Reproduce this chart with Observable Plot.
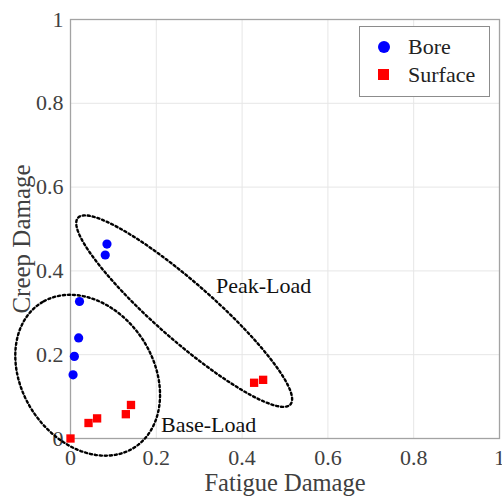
<!DOCTYPE html>
<html>
<head>
<meta charset="utf-8">
<script src="https://cdn.jsdelivr.net/npm/d3@7"></script>
<script src="https://cdn.jsdelivr.net/npm/@observablehq/plot@0.6"></script>
<style>
  html, body { margin: 0; padding: 0; background: #fff; }
  #wrap { position: relative; width: 502px; height: 500px; }
  #wrap svg text { font-family: "Liberation Serif", serif !important; }
  #legend {
    position: absolute; left: 359px; top: 26px; width: 131px; height: 71px;
    border: 1.2px solid #8c8c8c; background: #fff; box-sizing: border-box;
    font-family: "Liberation Serif", serif; font-size: 22px; color: #222;
  }
  .row { position: absolute; left: 0; height: 26px; line-height: 26px; }
  .sw { position: absolute; left: 18px; top: 7px; width: 12px; height: 12px; }
  .lab { position: absolute; left: 48px; white-space: nowrap; }
</style>
</head>
<body>
<div id="wrap"></div>
<script>
// ---- data ----
const seriesNames = ["Bore", "Surface"];
const seriesColors = ["#0000ff", "#ff0000"];
const boreX = [0.085, 0.081, 0.021, 0.019, 0.009, 0.006];
const boreY = [0.464, 0.438, 0.327, 0.240, 0.196, 0.152];
const surfX = [0.000, 0.042, 0.062, 0.129, 0.141, 0.428, 0.449];
const surfY = [0.000, 0.037, 0.048, 0.058, 0.080, 0.133, 0.140];

const xTicks = [0, 0.2, 0.4, 0.6, 0.8, 1];
const yTicks = [0, 0.2, 0.4, 0.6, 0.8, 1];
const xLabel = "Fatigue Damage";
const yLabel = "Creep Damage";

// annotation ellipses (data units: center, semi-axes, rotation in degrees)
const groupNames = ["Peak-Load", "Base-Load"];
const groupCX = [0.265, 0.040];
const groupCY = [0.304, 0.151];
const groupA = [0.333, 0.204];
const groupB = [0.068, 0.154];
const groupAngle = [-42, 121];
const groupLabelX = [0.339, 0.211];
const groupLabelY = [0.364, 0.033];

// ---- build tables ----
const bore = boreX.map((x, i) => ({x, y: boreY[i]}));
const surf = surfX.map((x, i) => ({x, y: surfY[i]}));

function ellipsePath(i) {
  const n = 180, pts = [];
  const th = groupAngle[i] * Math.PI / 180;
  for (let k = 0; k < n; k++) {
    const t = 2 * Math.PI * k / n;
    const u = groupA[i] * Math.cos(t), v = groupB[i] * Math.sin(t);
    pts.push({x: groupCX[i] + u * Math.cos(th) - v * Math.sin(th),
              y: groupCY[i] + u * Math.sin(th) + v * Math.cos(th), g: groupNames[i]});
  }
  return pts;
}
const ellipses = groupNames.flatMap((_, i) => ellipsePath(i));
const groupLabels = groupNames.map((t, i) => ({t, x: groupLabelX[i], y: groupLabelY[i]}));

const serif = "Liberation Serif";
const txt = "#404040";

const chart = Plot.plot({
  width: 502,
  height: 500,
  marginLeft: 70,
  marginRight: 3,
  marginTop: 19,
  marginBottom: 62,
  style: {fontFamily: serif, fontSize: "22px", color: txt, background: "#fff", overflow: "visible"},
  x: {domain: [0, 1]},
  y: {domain: [0, 1]},
  marks: [
    Plot.gridX(xTicks, {stroke: "#e6e6e6", strokeOpacity: 1}),
    Plot.gridY(yTicks, {stroke: "#e6e6e6", strokeOpacity: 1}),
    Plot.frame({stroke: "#a3a3a3", strokeWidth: 1.3}),
    Plot.axisX(xTicks, {tickSize: 0, tickPadding: 11, tickFormat: d => String(d), label: null, fontSize: 22, fontFamily: serif, fill: txt}),
    Plot.axisY(yTicks, {tickSize: 0, tickPadding: 7, tickFormat: d => String(d), label: null, fontSize: 22, fontFamily: serif, fill: txt}),
    Plot.text([xLabel], {frameAnchor: "bottom", dy: 52, text: d => d, fontSize: 24.5, fontFamily: serif, fill: txt}),
    Plot.text([yLabel], {frameAnchor: "left", textAnchor: "middle", rotate: -90, dx: -49, dy: 10, text: d => d, fontSize: 25, fontFamily: serif, fill: txt}),
    Plot.line(ellipses, {x: "x", y: "y", z: "g", curve: "linear-closed", stroke: "#000", strokeWidth: 2.4, strokeDasharray: "2.2,2.8"}),
    Plot.text(groupLabels, {x: "x", y: "y", text: "t", textAnchor: "start", fontSize: 22, fontFamily: serif, fill: "#111"}),
    Plot.dot(bore, {x: "x", y: "y", r: 4.6, fill: seriesColors[0], stroke: "none"}),
    Plot.dot(surf, {x: "x", y: "y", r: 4.7, symbol: "square", fill: seriesColors[1], stroke: "none"})
  ]
});
const wrap = document.getElementById("wrap");
wrap.appendChild(chart);

// legend
const leg = document.createElement("div");
leg.id = "legend";
seriesNames.forEach((name, i) => {
  const row = document.createElement("div");
  row.className = "row";
  row.style.top = (7 + i * 28) + "px";
  row.style.width = "100%";
  const sw = document.createElement("div");
  sw.className = "sw";
  sw.style.background = seriesColors[i];
  if (i === 0) sw.style.borderRadius = "50%";
  else { sw.style.width = "11px"; sw.style.height = "11px"; }
  const lab = document.createElement("div");
  lab.className = "lab";
  lab.textContent = name;
  row.appendChild(sw); row.appendChild(lab);
  leg.appendChild(row);
});
wrap.appendChild(leg);
</script>
</body>
</html>
